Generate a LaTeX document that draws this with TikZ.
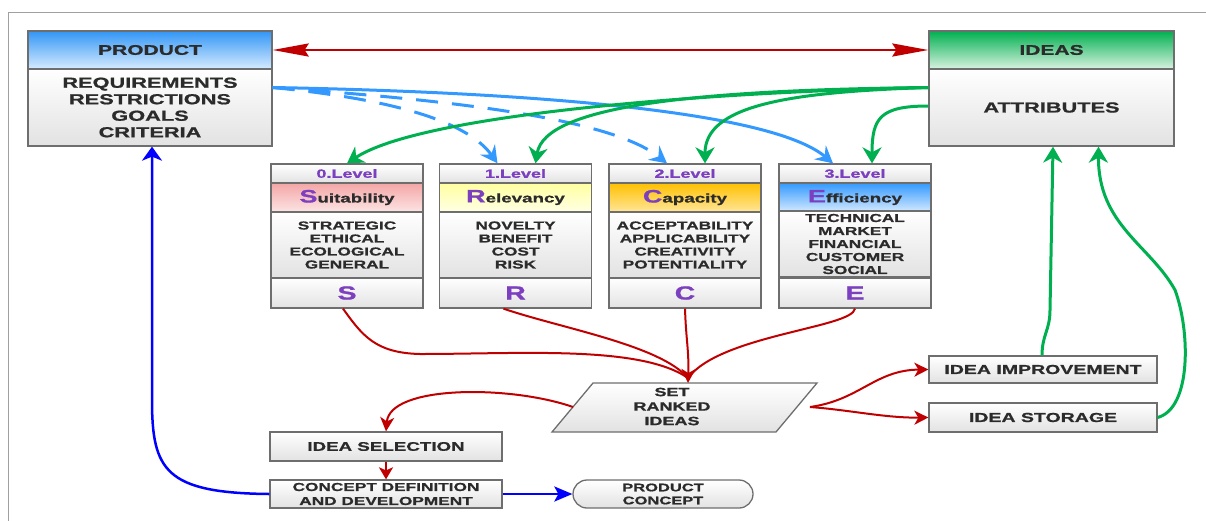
\documentclass[tikz,border=0pt]{standalone}
\usepackage{fontspec}
\setmainfont{Liberation Sans}[FakeStretch=1.5, BoldFeatures={FakeBold=1}]
\usetikzlibrary{arrows.meta}
\definecolor{redc}{HTML}{C00000}
\definecolor{greenc}{HTML}{00B050}
\definecolor{lblue}{HTML}{3399FF}
\definecolor{dblue}{HTML}{0000FF}
\definecolor{pur}{HTML}{7B3FBF}
\definecolor{bordc}{HTML}{6E6E6E}
\definecolor{txtc}{HTML}{2B2B2B}
\definecolor{framec}{HTML}{A0A0A0}
\definecolor{bodyb}{HTML}{E2E2E2}
\newcommand\myfs[2]{\fontsize{#1}{#2}\selectfont\bfseries}
\begin{document}
\begin{tikzpicture}[x=1pt,y=-1pt,
  box/.style={draw=bordc, line width=1.3pt, top color=white, bottom color=bodyb,
    inner sep=0pt, align=center, text=txtc},
  lvlrow/.style={box, minimum width=152pt, minimum height=19pt, font=\myfs{12}{13}, text=pur},
  hdrrow/.style={box, minimum width=152pt, minimum height=29pt, font=\myfs{12.5}{14}},
  bodyrow/.style={box, minimum width=152pt, minimum height=66pt, font=\myfs{11.5}{13}},
  letrow/.style={box, minimum width=152pt, minimum height=30pt, font=\myfs{19}{20}, text=pur},
  redarr/.style={draw=redc, line width=2pt},
  greenarr/.style={draw=greenc, line width=3pt},
  bluearr/.style={draw=lblue, line width=3pt},
  dbluearr/.style={draw=dblue, line width=2.5pt},
  rtip/.style={-{Stealth[length=14pt,width=14pt,inset=4pt]}},
  gtip/.style={-{Stealth[length=16pt,width=19pt,inset=5pt]}},
  btip/.style={-{Stealth[length=17pt,width=18pt,inset=6pt]}},
]
\useasboundingbox (0,0) rectangle (1206,520);
\draw[framec, line width=1pt] (8,525) -- (8,12) -- (1212,12);

% PRODUCT
\node[box, minimum width=244pt, minimum height=38pt, top color={rgb,255:red,50;green,150;blue,245}, bottom color={rgb,255:red,214;green,235;blue,255}, font=\myfs{14}{16}] (prodH) at (150,50) {PRODUCT};
\node[box, minimum width=244pt, minimum height=77pt, font=\myfs{14.5}{16.5}] (prodB) at (150,107.5) {REQUIREMENTS\\RESTRICTIONS\\GOALS\\CRITERIA};

% IDEAS
\node[box, minimum width=245pt, minimum height=38pt, top color=greenc, bottom color={rgb,255:red,217;green,242;blue,224}, font=\myfs{14}{16}] (ideH) at (1051.5,50) {IDEAS};
\node[box, minimum width=245pt, minimum height=77pt, font=\myfs{14.5}{16.5}] (ideB) at (1051.5,107.5) {ATTRIBUTES};

% Level boxes
\node[lvlrow] (l0) at (347,173.5) {0.Level};
\node[hdrrow, top color={rgb,255:red,244;green,166;blue,166}, bottom color={rgb,255:red,252;green,228;blue,228}] (h0) at (347,197.5) {{\fontsize{18}{20}\selectfont\color{pur}S}uitability};
\node[bodyrow] (b0) at (347,245) {STRATEGIC\\ETHICAL\\ECOLOGICAL\\GENERAL};
\node[letrow] (s0) at (347,293) {S};

\node[lvlrow] (l1) at (515.5,173.5) {1.Level};
\node[hdrrow, top color={rgb,255:red,255;green,255;blue,160}, bottom color={rgb,255:red,255;green,255;blue,228}] (h1) at (515.5,197.5) {{\fontsize{18}{20}\selectfont\color{pur}R}elevancy};
\node[bodyrow] (b1) at (515.5,245) {NOVELTY\\BENEFIT\\COST\\RISK};
\node[letrow] (s1) at (515.5,293) {R};

\node[lvlrow] (l2) at (685,173.5) {2.Level};
\node[hdrrow, top color={rgb,255:red,255;green,192;blue,0}, bottom color={rgb,255:red,255;green,230;blue,153}] (h2) at (685,197.5) {{\fontsize{18}{20}\selectfont\color{pur}C}apacity};
\node[bodyrow] (b2) at (685,245) {ACCEPTABILITY\\APPLICABILITY\\CREATIVITY\\POTENTIALITY};
\node[letrow] (s2) at (685,293) {C};

\node[lvlrow] (l3) at (855,173.5) {3.Level};
\node[hdrrow, top color=lblue, bottom color={rgb,255:red,214;green,234;blue,255}] (h3) at (855,197.5) {{\fontsize{18}{20}\selectfont\color{pur}E}fficiency};
\node[bodyrow] (b3) at (855,244) {TECHNICAL\\MARKET\\FINANCIAL\\CUSTOMER\\SOCIAL};
\node[letrow] (s3) at (855,293) {E};

% SET RANKED IDEAS parallelogram
\path[draw=bordc, line width=1.3pt, top color=white, bottom color=bodyb] (593,383) -- (817,383) -- (776,432) -- (552,432) -- cycle;
\node[inner sep=0pt, align=center, text=txtc, font=\myfs{12}{14.5}] (set) at (672,406.5) {SET\\RANKED\\IDEAS};
\coordinate (setT) at (688,383);
\coordinate (setW) at (573,407);
\coordinate (setE) at (810,407);

% lower boxes
\node[box, minimum width=232pt, minimum height=29pt, font=\myfs{12.5}{14}] (sel) at (386,446.5) {IDEA SELECTION};
\node[box, minimum width=232pt, minimum height=28pt, font=\myfs{11.5}{14}] (cdd) at (386,494) {CONCEPT DEFINITION\\AND DEVELOPMENT};
\node[box, minimum width=180pt, minimum height=28pt, rounded corners=14pt, font=\myfs{11}{13}] (pc) at (663,494) {PRODUCT\\CONCEPT};
\node[box, minimum width=228pt, minimum height=27pt, font=\myfs{13}{14}] (imp) at (1043,369.5) {IDEA IMPROVEMENT};
\node[box, minimum width=228pt, minimum height=29pt, font=\myfs{13}{14}] (sto) at (1043,417.5) {IDEA STORAGE};

% red double arrow
\draw[draw=redc, line width=2.5pt, {Stealth[length=36pt,width=13pt,inset=4pt]}-{Stealth[length=36pt,width=13pt,inset=4pt]}] (prodH.east) -- (ideH.west);

% blue arrows product -> levels
\draw[bluearr, btip] ([yshift=20pt]prodB.east) .. controls (520,92) and (770,110) .. ([xshift=-22pt]l3.north);
\draw[bluearr, btip, dash pattern=on 22pt off 14pt] ([yshift=20pt]prodB.east) .. controls (380,98) and (465,118) .. ([xshift=-18pt]l1.north);
\draw[bluearr, btip, dash pattern=on 22pt off 14pt] ([yshift=20pt]prodB.east) .. controls (450,100) and (610,118) .. ([xshift=-18pt]l2.north);

% green arrows ideas -> levels
\draw[greenarr, gtip] ([yshift=20pt]ideB.west) .. controls (700,92) and (420,115) .. (l0.north);
\draw[greenarr, gtip] ([yshift=20pt]ideB.west) .. controls (700,90) and (545,105) .. ([xshift=20pt]l1.north);
\draw[greenarr, gtip] ([yshift=20pt]ideB.west) .. controls (790,92) and (705,105) .. ([xshift=20pt]l2.north);
\draw[greenarr, gtip] ([yshift=1.5pt]ideB.west) .. controls (880,106) and (872,118) .. ([xshift=17pt]l3.north);

% red curves levels -> set
\draw[redarr] ([xshift=-4pt]s0.south) .. controls (362,335) and (375,353) .. (420,354) .. controls (520,354) and (640,345) .. (688,378);
\draw[redarr] ([xshift=-12pt]s1.south) .. controls (560,328) and (660,345) .. (688,378);
\draw[redarr] (s3.south) .. controls (852,328) and (720,335) .. (688,378);
\draw[redarr, rtip] (s2.south) .. controls (686,340) and (689,350) .. (setT);

% set -> selection, improvement, storage
\draw[redarr, rtip] (setW) .. controls (510,385) and (390,385) .. (sel.north);
\draw[redarr, rtip] (setE) .. controls (860,400) and (875,370) .. (imp.west);
\draw[redarr, rtip] (setE) .. controls (850,410) and (885,418) .. (sto.west);
\draw[redarr, -{Stealth[length=12pt,width=14pt,inset=3pt]}] (sel.south) -- (cdd.north);

% concept blue arrows
\draw[dbluearr, -{Stealth[length=18pt,width=15pt,inset=4pt]}] (cdd.east) -- (pc.west);
\draw[dbluearr, -{Stealth[length=14pt,width=20pt,inset=4pt]}] (cdd.west) .. controls (165,493) and (152,470) .. (152,400) -- ([xshift=2pt]prodB.south);

% green feedback
\draw[greenarr, gtip] ([xshift=-1pt]imp.north) .. controls (1042,335) and (1050,330) .. (1050,310) -- ([xshift=1.5pt]ideB.south);
\draw[greenarr, gtip] (sto.east) .. controls (1192,408) and (1190,330) .. (1175,290) .. controls (1150,245) and (1098,225) .. ([xshift=47pt]ideB.south);
\end{tikzpicture}
\end{document}
